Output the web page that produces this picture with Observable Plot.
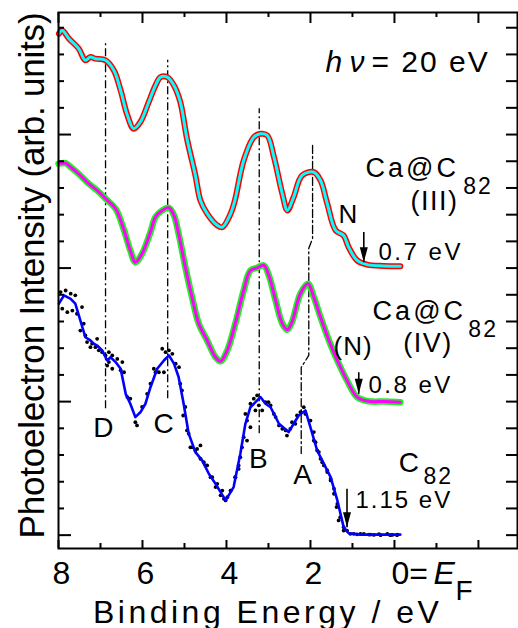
<!DOCTYPE html>
<html><head><meta charset="utf-8">
<script src="https://cdn.jsdelivr.net/npm/d3@7"></script>
<script src="https://cdn.jsdelivr.net/npm/@observablehq/plot@0.6"></script>
<style>
html,body{margin:0;padding:0;background:#fff;}
#chart svg{display:block;}
</style>
</head><body><div id="chart"></div>
<script>
// ---- data (binding energy in eV, intensity in arb. units, offsets included) ----
const energyIII = [7.99,7.91,7.75,7.52,7.36,7.24,7.12,6.88,6.68,6.52,6.36,6.21,6.05,5.85,5.69,5.57,5.41,5.25,5.10,4.94,4.74,4.62,4.46,4.22,4.10,3.90,3.80,3.59,3.35,3.19,3.03,2.87,2.67,2.55,2.40,2.20,1.92,1.76,1.60,1.40,1.21,1.09,0.89,0.65,0.26,-0.14];
const intensityIII = [19.28,19.40,19.09,18.72,18.28,18.40,18.34,18.28,17.90,17.15,16.22,15.72,15.97,16.72,17.34,17.65,17.65,17.34,16.72,15.34,13.97,13.03,12.54,12.10,12.03,12.54,13.03,14.53,15.40,15.53,15.47,14.66,13.28,12.66,13.16,13.97,14.09,13.78,12.91,11.91,11.72,11.28,10.79,10.63,10.58,10.57];

const energyIV = [8.00,7.83,7.71,7.52,7.28,7.08,6.88,6.64,6.45,6.29,6.17,6.01,5.81,5.69,5.53,5.37,5.25,5.14,4.98,4.82,4.66,4.46,4.26,4.14,3.98,3.79,3.59,3.43,3.27,3.11,2.99,2.83,2.67,2.55,2.44,2.24,2.06,1.92,1.76,1.56,1.36,1.13,0.89,0.65,0.25,-0.14];
const intensityIV = [14.41,14.43,14.28,14.03,13.66,13.41,13.10,12.72,11.97,11.16,10.72,11.04,11.85,12.41,12.66,12.76,12.47,11.79,10.54,9.41,8.42,7.79,7.16,7.01,7.42,8.42,9.66,10.41,10.51,10.60,10.22,9.29,8.42,8.19,8.48,9.54,9.91,9.41,8.66,7.79,7.04,6.29,5.67,5.52,5.50,5.48];

const energyC82 = [7.99,7.87,7.71,7.60,7.48,7.36,7.24,7.16,7.08,6.96,6.84,6.76,6.64,6.52,6.40,6.29,6.17,6.05,5.93,5.81,5.65,5.49,5.37,5.25,5.14,5.02,4.90,4.74,4.58,4.42,4.26,4.02,3.83,3.67,3.55,3.43,3.31,3.19,3.07,2.95,2.75,2.52,2.40,2.28,2.12,2.00,1.84,1.68,1.52,1.36,1.21,1.09,0.81,-0.14];
const intensityC82 = [9.17,9.48,9.35,9.17,8.54,7.91,7.79,7.67,7.60,7.42,7.04,7.16,6.98,6.73,5.79,5.42,4.92,5.10,5.42,6.04,6.73,7.04,7.23,6.92,6.42,5.42,4.30,3.61,3.30,2.80,2.42,1.80,2.30,3.55,4.67,5.29,5.48,5.67,5.42,5.29,4.67,4.36,4.67,4.98,5.17,4.54,3.67,3.17,2.67,1.80,0.80,0.57,0.52,0.52];

const dotsEnergyC82 = [7.95,7.83,7.71,7.60,7.91,7.79,7.67,7.56,7.44,7.40,7.48,7.36,7.32,7.20,7.08,7.12,7.04,7.24,6.96,6.88,6.80,6.72,6.60,6.48,6.84,6.72,6.52,6.80,6.44,6.36,6.29,6.17,6.13,6.01,5.89,5.81,5.73,5.69,5.53,5.45,5.37,5.29,5.61,5.49,5.21,5.13,5.10,5.06,4.98,4.90,4.82,4.70,4.62,4.54,4.46,4.34,4.22,4.10,
  4.06,3.98,3.90,3.79,3.71,3.67,3.63,3.59,3.51,3.55,3.43,3.35,3.27,3.23,3.15,3.07,3.00,2.95,2.87,2.83,2.75,2.67,2.59,2.56,2.48,2.44,2.36,2.32,2.24,2.16,2.12,2.00,1.92,1.88,1.80,1.76,1.68,1.60,1.52,1.44,1.36,1.29,1.21,1.13,0.97,0.89,0.73,0.61,0.49,0.37,0.17,0.05,-0.07,
  5.03,4.94,4.86,4.74,4.62,4.50,4.38,4.26,4.14,4.02,3.90,3.79,3.71,3.51,3.43,3.31,
  1.92,1.84,1.72,1.60,1.52,1.44,1.38,1.33,1.21,1.05,0.81,0.57,0.33,0.10,-0.06];
const dotsIntensityC82 = [9.60,9.66,9.54,9.48,8.98,8.85,8.91,8.79,9.04,8.42,8.16,7.98,7.73,7.67,7.85,7.54,7.42,7.54,7.35,7.23,7.35,7.23,7.10,6.98,6.85,6.73,6.67,6.98,6.60,5.67,5.61,4.73,4.61,5.30,5.79,6.17,6.73,6.60,7.48,7.35,7.42,7.29,6.60,6.60,6.92,6.79,6.17,5.92,5.30,4.30,3.79,3.73,3.86,3.23,3.11,2.67,2.42,2.17,
  1.86,1.92,2.17,2.67,3.11,3.42,3.79,4.17,4.79,5.04,5.42,5.61,5.73,5.36,5.17,5.48,5.48,5.36,5.04,4.92,4.61,4.48,4.42,4.23,4.48,4.73,4.67,4.98,5.11,5.29,5.04,4.79,4.36,3.98,3.61,3.36,3.11,2.92,2.61,2.24,1.67,1.17,0.80,0.67,0.55,0.53,0.55,0.52,0.51,0.54,0.55,0.51,0.52,
  4.98,4.42,3.79,3.67,3.36,3.11,2.67,2.30,1.99,1.80,2.17,2.67,2.98,4.04,4.54,5.17,
  4.04,3.67,3.23,2.86,2.55,2.05,1.55,1.05,0.67,0.55,0.55,0.52,0.50,0.50,0.50];

// peak marker lines D, C, B and the kinked A line
const refEnergy = [6.88, 5.40, 3.22];
const refTop = [18.96, 18.28, 16.47];
const refBottom = [5.23, 5.61, 4.30];
const lineAEnergy = [1.95, 1.95, 2.04, 2.04, 2.22, 2.22];
const lineAIntensity = [15.09, 11.61, 11.24, 7.23, 6.78, 3.56];

// onset arrows
const arrowEnergy = [0.73, 0.85, 1.13];
const arrowFrom = [11.85, 6.60, 2.24];
const arrowTo = [10.72, 5.79, 0.80];

// ticks
const xMajorTicks = [8, 6, 4, 2, 0, -2];
const xMinorTicks = [7, 5, 3, 1, -1];
const xTickLabels = ["8", "6", "4", "2"];
const yMinorTicks = [1.5,2.5,3.5,4.5,6.5,7.5,8.5,9.5,11.5,12.5,13.5,14.5,16.5,17.5,18.5,19.5];
const yMajorTicks = [0.5, 5.5, 10.5, 15.5];
const yAllTicks = yMajorTicks.concat(yMinorTicks);

// ---- build tables ----
const zip = (xs, ys) => xs.map((x, i) => ({x, y: ys[i]}));
const seriesIII = zip(energyIII, intensityIII);
const seriesIV = zip(energyIV, intensityIV);
const seriesC82 = zip(energyC82, intensityC82);
const dotsC82 = zip(dotsEnergyC82, dotsIntensityC82);
const refs = refEnergy.map((x, i) => ({x, y1: refBottom[i], y2: refTop[i]}));
const lineA = zip(lineAEnergy, lineAIntensity);
const arrows = arrowEnergy.map((x, i) => ({x, y1: arrowFrom[i], y2: arrowTo[i]}));

const W = 518, H = 628;
const mL = 58, mR = 1, mT = 12, mB = 80;
const fw = W - mL - mR, fh = H - mT - mB;
const FONT = "'Liberation Sans', Arial, Helvetica, sans-serif";

const lab = (text, x, y, o = {}) => Plot.text([text], {x: () => x, y: () => y, text: d => d,
  textAnchor: "start", lineAnchor: "bottom", fill: "black", ...o});

const arrowHead = {draw(ctx) { ctx.moveTo(0, 0); ctx.lineTo(-4, -15); ctx.lineTo(4, -15); ctx.closePath(); }};
const dashDot = "8,3,2,3";
const smooth = "catmull-rom";

const chart = Plot.plot({
  width: W, height: H,
  marginLeft: mL, marginRight: mR, marginTop: mT, marginBottom: mB,
  style: {fontFamily: FONT, background: "white"},
  x: {domain: [8, -2.93], axis: null},
  y: {domain: [0, 20.07], axis: null},
  marks: [
    // reference lines
    Plot.ruleX(refs, {x: "x", y1: "y1", y2: "y2", stroke: "black", strokeWidth: 1.3, strokeDasharray: dashDot}),
    Plot.line(lineA, {x: "x", y: "y", stroke: "black", strokeWidth: 1.3, strokeDasharray: dashDot}),
    // Ca@C82 (III): red data, cyan fit
    Plot.line(seriesIII, {x: "x", y: "y", stroke: "#ff0000", strokeWidth: 6, strokeLinejoin: "round", curve: smooth}),
    Plot.line(seriesIII, {x: "x", y: "y", stroke: "#00ffff", strokeWidth: 3, strokeLinejoin: "round", curve: smooth}),
    // Ca@C82 (IV): green data, magenta fit
    Plot.line(seriesIV, {x: "x", y: "y", stroke: "#22ee22", strokeWidth: 6.5, strokeLinejoin: "round", curve: smooth}),
    Plot.line(seriesIV, {x: "x", y: "y", stroke: "#ff00ff", strokeWidth: 3, strokeLinejoin: "round", curve: smooth}),
    // C82: black data, blue fit
    Plot.dot(dotsC82, {x: "x", y: "y", r: 1.9, fill: "black", stroke: "none"}),
    Plot.line(seriesC82, {x: "x", y: "y", stroke: "#0000ff", strokeWidth: 2.6, strokeLinejoin: "round"}),
    // arrows
    Plot.link(arrows, {x1: "x", x2: "x", y1: "y1", y2: "y2", stroke: "black", strokeWidth: 1.6}),
    Plot.dot(arrows, {x: "x", y: "y2", symbol: arrowHead, fill: "black", stroke: "none", r: 5}),
    // frame and ticks
    Plot.frame({stroke: "black", strokeWidth: 2}),
    Plot.tickX(xMajorTicks, {x: d => d, insetTop: fh - 8, stroke: "black", strokeWidth: 2}),
    Plot.tickX(xMinorTicks, {x: d => d, insetTop: fh - 5, stroke: "black", strokeWidth: 2}),
    Plot.tickX(xMajorTicks, {x: d => d, insetBottom: fh - 11, stroke: "black", strokeWidth: 2}),
    Plot.tickX(xMinorTicks, {x: d => d, insetBottom: fh - 5, stroke: "black", strokeWidth: 2}),
    Plot.tickY(yMajorTicks, {y: d => d, insetRight: fw - 13, stroke: "black", strokeWidth: 2}),
    Plot.tickY(yMinorTicks, {y: d => d, insetRight: fw - 6, stroke: "black", strokeWidth: 2}),
    Plot.tickY(yAllTicks, {y: d => d, insetLeft: fw - 11, stroke: "black", strokeWidth: 2}),
    // x tick labels
    Plot.text(xTickLabels, {x: d => +d, text: d => d, frameAnchor: "bottom", dy: 35, dx: 3, textAnchor: "middle", lineAnchor: "bottom", fontSize: 32, fill: "black"}),
    Plot.text(["0="], {x: () => 0, text: d => d, frameAnchor: "bottom", dy: 35, dx: -3, textAnchor: "start", lineAnchor: "bottom", fontSize: 32, fill: "black"}),
    Plot.text(["E"], {x: () => 0, text: d => d, frameAnchor: "bottom", dy: 35, dx: 39, textAnchor: "start", lineAnchor: "bottom", fontSize: 32, fontStyle: "italic", fill: "black"}),
    Plot.text(["F"], {x: () => 0, text: d => d, frameAnchor: "bottom", dy: 51, dx: 61, textAnchor: "start", lineAnchor: "bottom", fontSize: 28, fill: "black"}),
    // axis titles
    Plot.text(["Binding Energy / eV"], {x: () => 3.02, text: d => d, frameAnchor: "bottom", dy: 74, textAnchor: "middle", lineAnchor: "bottom", fontSize: 32, fill: "black"}),
    Plot.text(["Photoelectron Intensity (arb. units)"], {y: () => 10.22, text: d => d, frameAnchor: "left", dx: -26, rotate: -90, textAnchor: "middle", lineAnchor: "middle", fontSize: 35, fill: "black"}),
    // annotations
    lab("h", 1.643, 17.84, {fontSize: 30, fontStyle: "italic"}),
    lab("ν", 1.071, 17.84, {fontSize: 30, fontStyle: "italic"}),
    lab("= 20 eV", 0.548, 17.84, {fontSize: 30}),
    lab("Ca@C", 0.69, 13.91, {fontSize: 27}),
    lab("82", -1.64, 13.28, {fontSize: 23}),
    lab("(III)", -0.38, 12.66, {fontSize: 27}),
    lab("N", 1.33, 12.17, {fontSize: 26}),
    lab("0.7 eV", 0.38, 10.79, {fontSize: 24}),
    lab("Ca@C", 0.52, 8.54, {fontSize: 27}),
    lab("82", -1.76, 7.91, {fontSize: 23}),
    lab("(IV)", -0.21, 7.34, {fontSize: 27}),
    lab("(N)", 1.45, 7.23, {fontSize: 26}),
    lab("0.8 eV", 0.62, 5.84, {fontSize: 24}),
    lab("C", -0.10, 2.86, {fontSize: 28}),
    lab("82", -0.69, 2.43, {fontSize: 23}),
    lab("1.15 eV", 0.93, 1.50, {fontSize: 24}),
    lab("D", 6.93, 4.16, {fontSize: 28, textAnchor: "middle"}),
    lab("C", 5.50, 4.34, {fontSize: 28, textAnchor: "middle"}),
    lab("B", 3.24, 3.00, {fontSize: 28, textAnchor: "middle"}),
    lab("A", 2.19, 2.43, {fontSize: 28, textAnchor: "middle"})
  ]
});

// letter spacing to mimic the wide lettering of the original
const spacing = {"Binding Energy / eV": 3.5, "= 20 eV": 2, "Ca@C": 3, "82": 2, "(III)": 1.5, "(IV)": 1.5,
  "(N)": 1, "0.7 eV": 2.5, "0.8 eV": 2.5, "1.15 eV": 2, "Photoelectron Intensity (arb. units)": -0.2};
d3.select(chart).selectAll("text").each(function() {
  const s = spacing[this.textContent];
  if (s !== undefined) this.setAttribute("letter-spacing", s);
});
document.getElementById("chart").appendChild(chart);
</script>
</body></html>
